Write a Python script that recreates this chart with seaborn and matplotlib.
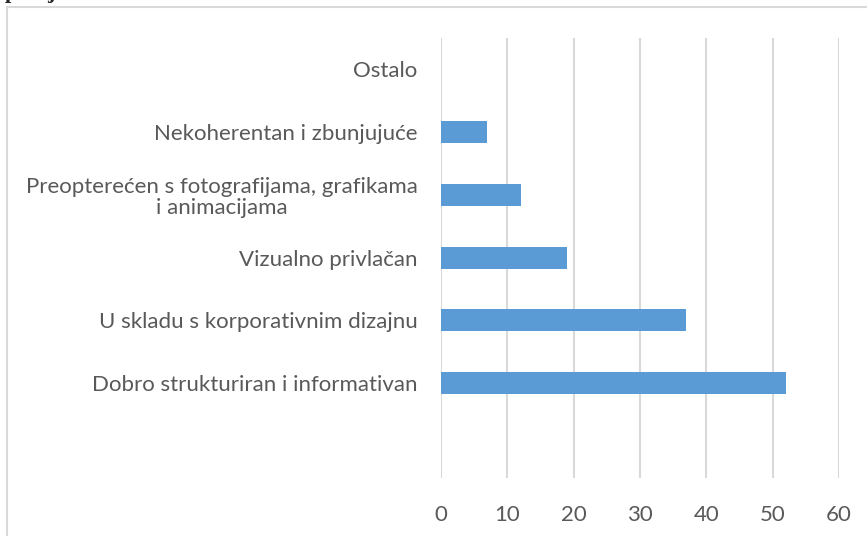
import matplotlib
matplotlib.use("Agg")
import matplotlib.pyplot as plt
import matplotlib.patches as patches
import seaborn as sns
import pandas as pd

# podaci
kategorije = ["Ostalo",
              "Nekoherentan i zbunjujuće",
              "Preopterećen s fotografijama, grafikama\ni animacijama",
              "Vizualno privlačan",
              "U skladu s korporativnim dizajnu",
              "Dobro strukturiran i informativan",
              " "]
vrijednosti = [0, 7, 12, 19, 37, 52, 0]
x_ticks = [0, 10, 20, 30, 40, 50, 60]

df = pd.DataFrame({"kategorija": kategorije, "broj": vrijednosti})

sns.set_style("white")
plt.rcParams['font.family'] = ['Lato', 'DejaVu Sans']

fig = plt.figure(figsize=(8.67, 5.36), dpi=100)
ax = fig.add_axes([441/867, 1-477.5/536, 398/867, 440/536])

sns.barplot(data=df, x="broj", y="kategorija", orient="h", color="#5B9BD5",
            width=0.35, saturation=1, linewidth=0, edgecolor="none", ax=ax)

ax.set_xlim(0, 60)
ax.set_xticks(x_ticks)
ax.set_yticks(range(len(kategorije)))
ax.set_yticklabels(kategorije, ma="center", linespacing=1.1)
ax.grid(axis="x", color="#D9D9D9", linewidth=1.5)
ax.set_axisbelow(True)
for s in ax.spines.values():
    s.set_visible(False)
ax.set_xlabel("")
ax.set_ylabel("")
ax.tick_params(axis="y", length=0, pad=17, labelsize=16, labelcolor="#595959")
ax.tick_params(axis="x", length=0, pad=20, labelsize=16, labelcolor="#595959")

# okvir grafikona
fig.patches.append(patches.Rectangle((7/867, -0.1), 1.2, 1-7/536+0.1,
                                     transform=fig.transFigure, fill=False,
                                     edgecolor="#D9D9D9", linewidth=1.5))

# odrezani tekst iznad grafikona
fig.text(5/867, 1+2/536, "p", family="Liberation Serif", weight="bold",
         fontsize=16, va="baseline", ha="left")
fig.text(47/867, 1+2/536, "j", family="Liberation Serif", weight="bold",
         fontsize=16, va="baseline", ha="left")

fig.savefig("out.png", dpi=100)
